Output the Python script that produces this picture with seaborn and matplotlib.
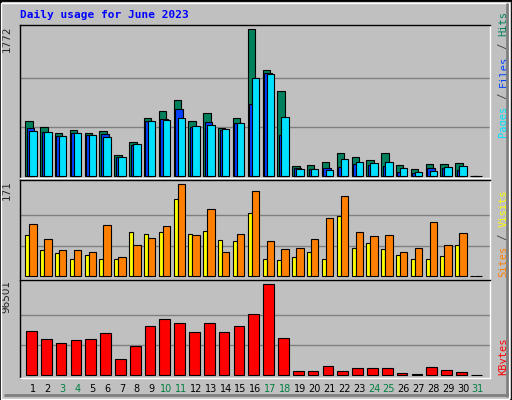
import numpy as np
import matplotlib
matplotlib.use("Agg")
import matplotlib.pyplot as plt
import seaborn as sns
from matplotlib.patches import Rectangle

days = list(range(1, 32))
hits = [661,588,516,552,516,540,250,407,697,782,915,661,758,576,697,1772,1277,1024,117,129,165,274,226,189,274,129,81,141,141,153,0]
files = [576,528,480,516,492,504,226,371,661,685,806,588,649,552,637,866,1241,492,93,81,93,105,141,129,117,44,32,93,93,69,0]
pages = [540,528,480,516,492,467,226,383,661,673,697,600,613,564,637,1181,1229,709,81,81,69,201,165,153,165,93,44,56,105,117,0]
visits = [76,48,43,32,39,33,32,82,78,82,143,78,84,67,65,117,33,30,35,46,32,112,52,61,50,39,32,33,37,59,0]
sites = [97,69,48,48,46,95,35,59,72,93,171,76,125,46,78,158,65,50,52,69,108,149,82,74,76,46,52,100,59,80,0]
kbytes = [46660,38176,33934,37115,38176,44540,16967,30753,51962,59386,55144,45600,55144,45600,51962,64688,96501,39237,4242,4242,9544,4242,7423,7423,7423,2121,1060,8484,5302,3181,0]
weekend = [3,4,10,11,17,18,24,25,31]
title = "Daily usage for June 2023"

sns.set_style("white")
plt.rcParams['font.family'] = ['DejaVu Sans Mono', 'DejaVu Sans']
BG = "#c0c0c0"
fig = plt.figure(figsize=(5.12, 4.0), dpi=100, facecolor=BG)
W, H = 512, 400

def axes_px(top, bottom):
    return fig.add_axes([20/W, 1-bottom/H, 470/W, (bottom-top)/H])

x = np.array(days, dtype=float)
ec = dict(edgecolor="black", linewidth=0.8, align="edge")

def style(ax, vmax, below, above):
    ax.set_facecolor(BG)
    ax.set_xlim(0.123, 31.82)
    ax.set_ylim(-vmax*below, vmax*above)
    for f in (1/3, 2/3):
        ax.axhline(vmax*f, color="#808080", lw=1, zorder=0)
    ax.set_xticks([]); ax.set_yticks([])
    for s in ax.spines.values():
        s.set_color("white"); s.set_linewidth(1)
    ax.spines["top"].set_color("black"); ax.spines["left"].set_color("black")
    ax.text(-0.028, 1.0, f"{int(vmax)}", transform=ax.transAxes, rotation=90,
            ha="center", va="top", fontsize=7.5, family="DejaVu Sans")

def right_label(ax, parts, start):
    size = 7.5
    cw = 0.602*size*100/72 / (ax.get_position().height*H)
    pos = start
    for txt, col in parts:
        ax.text(1.018, pos, txt, transform=ax.transAxes, rotation=90, ha="left",
                va="bottom", color=col, fontsize=size)
        pos += cw*len(txt)

ax1 = axes_px(25, 178)
ax1.bar(x-0.52, hits, width=0.5, color="#00805c", zorder=2, **ec)
ax1.bar(x-0.42, files, width=0.52, color="#0040ff", zorder=3, **ec)
ax1.bar(x-0.25, pages, width=0.5, color="#00e0ff", zorder=4, **ec)
style(ax1, max(hits), 2/147, 151/147)
right_label(ax1, [("Pages", "#00e0ff"), (" / ", "#404040"), ("Files", "#0040ff"), (" / ", "#404040"), ("Hits", "#00805c")], 0.27)

ax2 = axes_px(180, 280)
ax2.bar(x-0.52, visits, width=0.27, color="#ffff00", zorder=2, **ec)
ax2.bar(x-0.25, sites, width=0.5, color="#ff8000", zorder=3, **ec)
style(ax2, max(sites), 3.7/92, 96.3/92)
right_label(ax2, [("Sites", "#ff8000"), (" / ", "#404040"), ("Visits", "#ffff00")], 0.03)

ax3 = axes_px(280, 378)
sns.barplot(x=x-0.47, y=kbytes, ax=ax3, native_scale=True, color="#ff0000", saturation=1,
            width=0.72, edgecolor="black", linewidth=0.8, zorder=2)
ax3.set_xlabel(""); ax3.set_ylabel("")
for p in ax3.patches:
    p.set_x(p.get_x() + 0.36)
style(ax3, max(kbytes), 2.7/91, 95.3/91)
right_label(ax3, [("KBytes", "#ff0000")], 0.03)

for d in days:
    fig.text((20 + (d - 0.123)*470/31.697)/W, 1-389/H, str(d), ha="center", va="center",
             fontsize=7, family="DejaVu Sans", color="#008040" if d in weekend else "black")

fig.text(20/W, 1-15/H, title, color="#0000ff", fontsize=8, fontweight="bold", va="center", ha="left")

fig.patches.append(Rectangle((0, 0), 1, 1, transform=fig.transFigure, fill=False, edgecolor="black", lw=2))
fig.patches.append(Rectangle((1/W, 1/H), 1-4/W, 1-4/H, transform=fig.transFigure, fill=False, edgecolor="white", lw=1))
fig.add_artist(plt.Line2D([0.01, 0.99], [5/H, 5/H], transform=fig.transFigure, color="#808080", lw=2))
fig.add_artist(plt.Line2D([1-5/W, 1-5/W], [0.01, 0.99], transform=fig.transFigure, color="#808080", lw=2))

fig.savefig("out.png", dpi=100, facecolor=BG)
